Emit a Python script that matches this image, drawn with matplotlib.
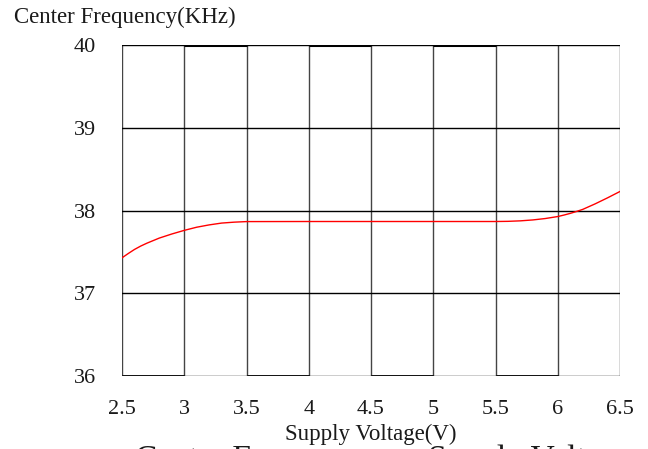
import numpy as np
import matplotlib.pyplot as plt

# Center frequency vs supply voltage
voltage = [2.5, 2.55, 2.6, 2.65, 2.7, 2.8, 2.9, 3.0, 3.1, 3.2, 3.3, 3.4, 3.5,
           4.0, 4.5, 5.0, 5.5, 5.6, 5.7, 5.8, 5.9, 6.0, 6.05, 6.1, 6.15, 6.2,
           6.3, 6.4, 6.5]
freq = [37.428, 37.48, 37.529, 37.57, 37.605, 37.667, 37.716, 37.76, 37.798,
        37.826, 37.848, 37.859, 37.866,
        37.867, 37.867, 37.867, 37.867, 37.869, 37.875, 37.886, 37.903, 37.927,
        37.945, 37.965, 37.988, 38.013, 38.08, 38.153, 38.23]

x_ticks = [2.5, 3, 3.5, 4, 4.5, 5, 5.5, 6, 6.5]
x_labels = ["2.5", "3", "3.5", "4", "4.5", "5", "5.5", "6", "6.5"]
y_ticks = [36, 37, 38, 39, 40]
y_labels = ["36", "37", "38", "39", "40"]

font = "Liberation Serif"
tcol = "#1a1a1a"

fig = plt.figure(figsize=(6.48, 4.49), dpi=100)
ax = fig.add_axes([122/648, 1 - 376/449, (620 - 122)/648, (376 - 45)/449])

ax.set_xlim(2.5, 6.5)
ax.set_ylim(36, 40)

# grid
for v in x_ticks:
    ax.axvline(v, color="#444444", lw=1.0, zorder=1)
for v in y_ticks:
    ax.axhline(v, color="black", lw=1.0, zorder=1)

# heavier segments along top / bottom border
ax.hlines([40] * 3, [3, 4, 5], [3.5, 4.5, 5.5], color="black", lw=2.2, zorder=2)
ax.hlines([36] * 4, [2.5, 3.5, 4.5, 5.5], [3, 4, 5, 6], color="black", lw=2.0, zorder=2)

ax.plot(voltage, freq, color="red", lw=1.0, zorder=3)

for s in ax.spines.values():
    s.set_visible(False)

ax.set_xticks(x_ticks)
ax.set_xticklabels(x_labels, family=font, fontsize=16, color=tcol)
ax.set_yticks(y_ticks)
ax.set_yticklabels(y_labels, family=font, fontsize=16, color=tcol)
ax.tick_params(axis="x", length=0, pad=17)
ax.tick_params(axis="y", length=0, pad=19)

ax.set_xlabel("Supply Voltage(V)", family=font, fontsize=16.5, color=tcol, labelpad=4)
fig.text(14/648, 1 - 17/449, "Center Frequency(KHz)", family=font, fontsize=16.5,
         color=tcol, ha="left", va="center")

# caption cut off by the bottom edge
fig.text(383/648, 1 - 468/449, "Center Frequency vs. Supply Voltage", family=font,
         fontsize=24, color=tcol, ha="center", va="baseline")

fig.savefig("out.png", dpi=100)
